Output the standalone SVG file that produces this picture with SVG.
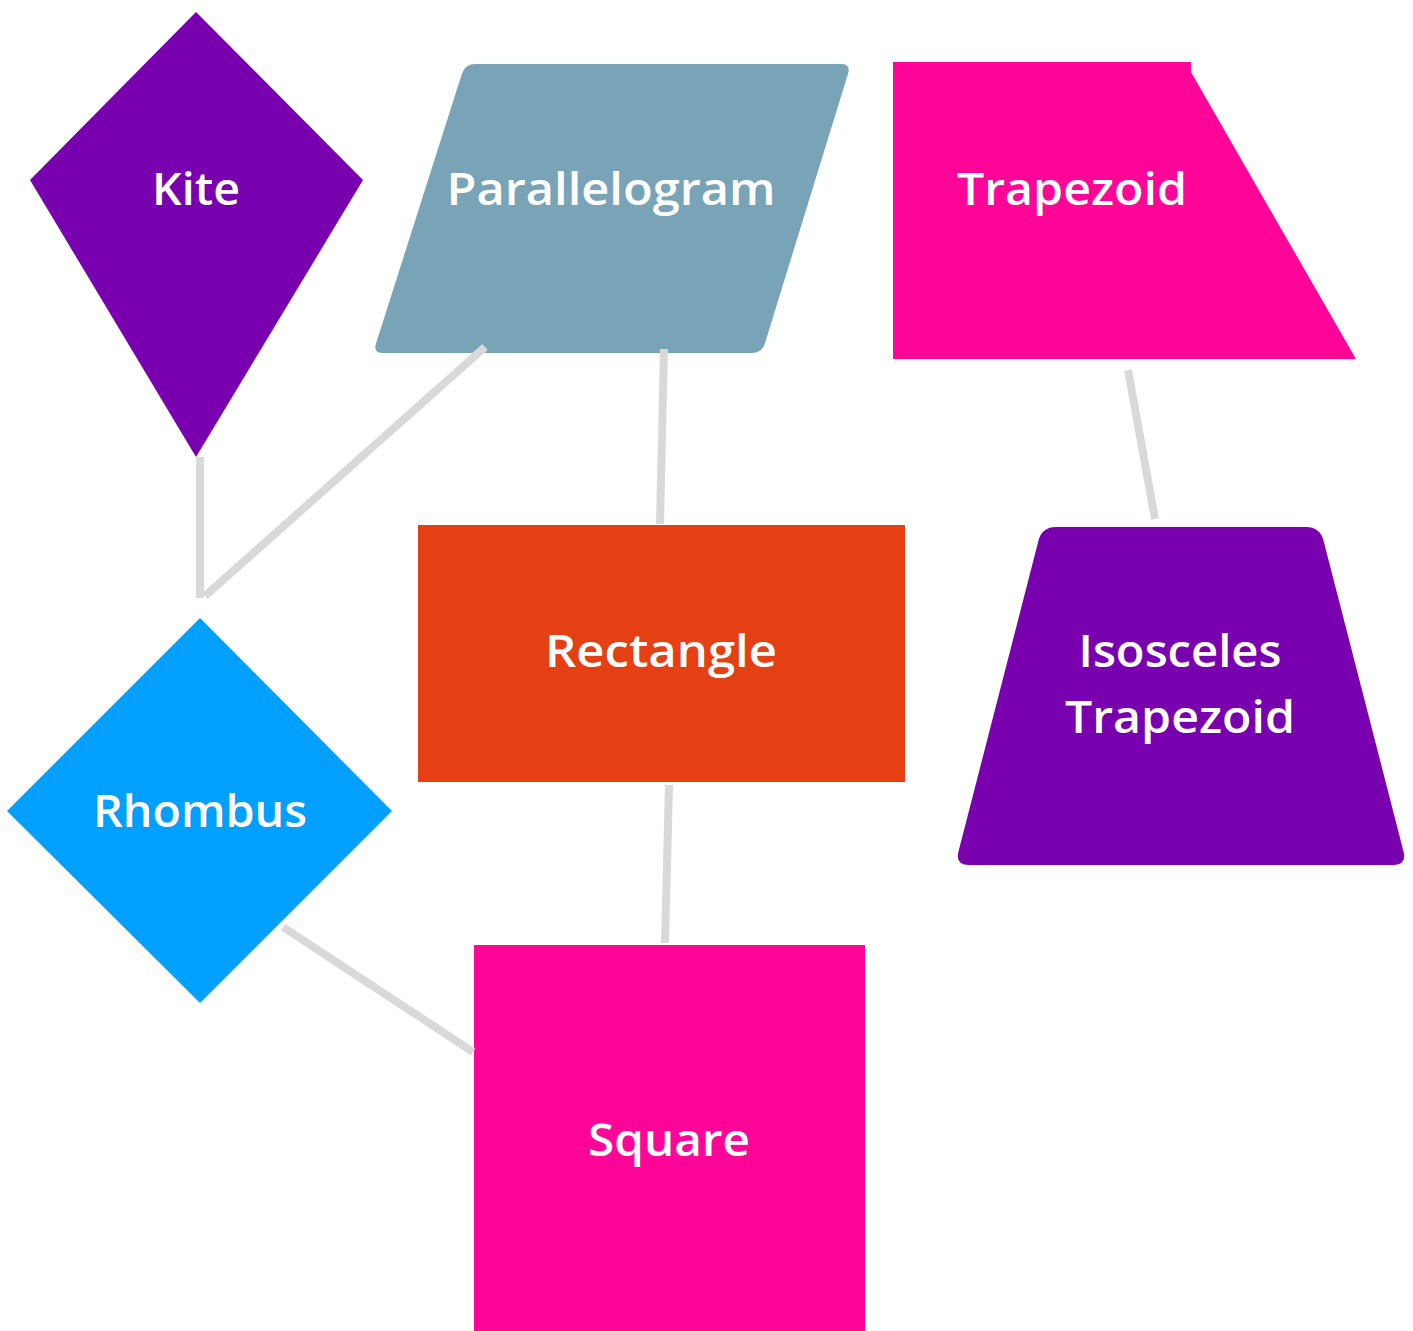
<svg xmlns="http://www.w3.org/2000/svg" width="1413" height="1331" viewBox="0 0 1413 1331">
<style>
.lbl{font-family:"Open Sans","Liberation Sans",sans-serif;font-weight:600;font-size:46px;fill:#FFFFFF;text-anchor:middle}
.conn{stroke:#D9D9D9;stroke-width:8;fill:none}
</style>
<rect width="1413" height="1331" fill="#FFFFFF"/>
<g id="kite">
<polygon points="196,12 363,180 196,457 30,180" fill="#7800AF"/>
<text class="lbl" x="196" y="205" textLength="88" lengthAdjust="spacingAndGlyphs">Kite</text>
</g>
<g id="parallelogram">
<path d="M475,64 L841,64 Q851,64 848.1,73.6 L764.9,343.4 Q762,353 752,353 L383,353 Q373,353 376,343.5 L462,73.5 Q465,64 475,64 Z" fill="#79A3B6"/>
<text class="lbl" x="611" y="205" textLength="329" lengthAdjust="spacingAndGlyphs">Parallelogram</text>
</g>
<g id="trapezoid">
<polygon points="893,62 1191,62 1191,72 1356,359 893,359" fill="#FF0598"/>
<text class="lbl" x="1072" y="205" textLength="230" lengthAdjust="spacingAndGlyphs">Trapezoid</text>
</g>
<g id="rectangle">
<rect x="418" y="525" width="487" height="257" fill="#E54013"/>
<text class="lbl" x="661" y="667" textLength="232" lengthAdjust="spacingAndGlyphs">Rectangle</text>
</g>
<g id="isosceles-trapezoid">
<path d="M1056,527 L1306,527 Q1320,527 1323.5,540.6 L1403.5,851.4 Q1407,865 1393,865 L969,865 Q955,865 958.5,851.4 L1038.5,540.6 Q1042,527 1056,527 Z" fill="#7800AF"/>
<text class="lbl" x="1180" y="667" textLength="203" lengthAdjust="spacingAndGlyphs">Isosceles</text>
<text class="lbl" x="1180" y="733" textLength="230" lengthAdjust="spacingAndGlyphs">Trapezoid</text>
</g>
<g id="rhombus">
<polygon points="200,618 392,811 200,1003 7,811" fill="#02A0FE"/>
<text class="lbl" x="200" y="827" textLength="214" lengthAdjust="spacingAndGlyphs">Rhombus</text>
</g>
<g id="square">
<rect x="474" y="945" width="391" height="386" fill="#FF0598"/>
<text class="lbl" x="669" y="1156" textLength="162" lengthAdjust="spacingAndGlyphs">Square</text>
</g>
<g id="connectors">
<line class="conn" x1="200" y1="457" x2="200" y2="598"/>
<line class="conn" x1="485" y1="347" x2="205" y2="596"/>
<line class="conn" x1="664" y1="349" x2="660" y2="524"/>
<line class="conn" x1="669" y1="785" x2="665" y2="943"/>
<line class="conn" x1="283" y1="927" x2="473" y2="1052"/>
<line class="conn" x1="1128" y1="370" x2="1155" y2="519"/>
</g>
</svg>
